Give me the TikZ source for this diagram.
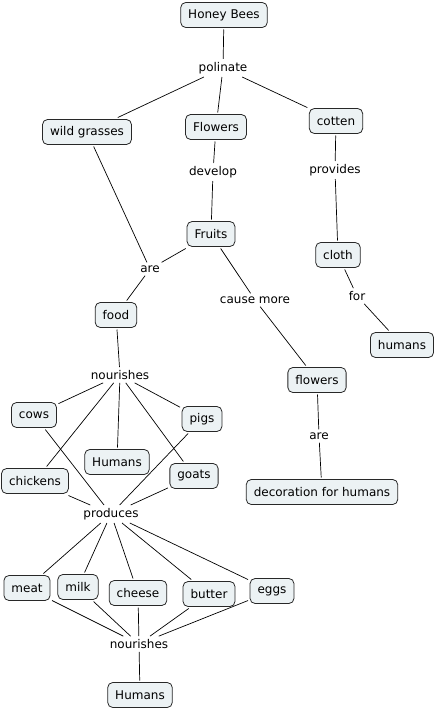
\documentclass[tikz,border=0pt]{standalone}
\usepackage{fontspec}
\setmainfont{DejaVu Sans}
\definecolor{boxfill}{RGB}{236,242,244}
\definecolor{boxline}{RGB}{40,40,40}
\begin{document}
\begin{tikzpicture}[x=1pt,y=-1pt,
  concept/.style={draw=boxline,fill=boxfill,rounded corners=5pt,line width=0.8pt,
    minimum height=25pt,inner xsep=7.5pt,inner ysep=2pt,outer sep=2pt,
    font=\fontsize{12}{14}\selectfont},
  link/.style={inner sep=3pt,font=\fontsize{12}{14}\selectfont},
  conn/.style={line width=0.7pt,black}]
\useasboundingbox (0,0) rectangle (436,709);
\node[concept] (bees) at (224,15) {Honey Bees};
\node[link] (polinate) at (223,68) {polinate};
\node[concept] (wild) at (87,132) {wild grasses};
\node[concept] (flowersA) at (216,127) {Flowers};
\node[concept] (cotten) at (336,121) {cotten};
\node[link] (develop) at (213,172) {develop};
\node[link] (provides) at (335,170) {provides};
\node[concept] (fruits) at (211,234) {Fruits};
\node[link] (areA) at (150,269) {are};
\node[concept] (cloth) at (338,255) {cloth};
\node[link] (cause) at (255,300) {cause more};
\node[link] (for) at (357,296) {for};
\node[concept] (food) at (116,315) {food};
\node[concept] (humansA) at (402,345) {humans};
\node[link] (nourA) at (120,375) {nourishes};
\node[concept] (flowersB) at (317,380) {flowers};
\node[concept] (cows) at (34,415) {cows};
\node[concept] (pigs) at (202,419) {pigs};
\node[link] (areB) at (319,436) {are};
\node[concept] (humansB) at (117,462) {Humans};
\node[concept] (goats) at (194,476) {goats};
\node[concept] (chickens) at (35,481) {chickens};
\node[concept] (deco) at (322,492) {decoration for humans};
\node[link] (produces) at (111,514) {produces};
\node[concept] (meat) at (27,588) {meat};
\node[concept] (milk) at (78,587) {milk};
\node[concept] (cheese) at (138,593) {cheese};
\node[concept] (butter) at (209,594) {butter};
\node[concept] (eggs) at (272,591) {eggs};
\node[link] (nourB) at (139,644) {nourishes};
\node[concept] (humansC) at (140,695) {Humans};

\begin{scope}[conn]
\draw (bees) -- (polinate);
\draw (polinate) -- (wild);
\draw (polinate) -- (flowersA);
\draw (polinate) -- (cotten);
\draw (flowersA) -- (develop);
\draw (develop) -- (fruits);
\draw (cotten) -- (provides);
\draw (provides) -- (cloth);
\draw (cloth) -- (for);
\draw (for) -- (humansA);
\draw (wild) -- (areA);
\draw (fruits) -- (areA);
\draw (areA) -- (food);
\draw (fruits) -- (cause);
\draw (cause) -- (flowersB);
\draw (flowersB) -- (areB);
\draw (areB) -- (deco);
\draw (food) -- (nourA);
\draw (nourA) -- (cows);
\draw (nourA) -- (pigs);
\draw (nourA) -- (humansB);
\draw (nourA) -- (chickens);
\draw (nourA) -- (goats);
\draw (cows) -- (produces);
\draw (pigs) -- (produces);
\draw (chickens) -- (produces);
\draw (goats) -- (produces);
\draw (produces) -- (meat);
\draw (produces) -- (milk);
\draw (produces) -- (cheese);
\draw (produces) -- (butter);
\draw (produces) -- (eggs);
\draw (meat) -- (nourB);
\draw (milk) -- (nourB);
\draw (cheese) -- (nourB);
\draw (butter) -- (nourB);
\draw (eggs) -- (nourB);
\draw (nourB) -- (humansC);
\end{scope}
\end{tikzpicture}
\end{document}
